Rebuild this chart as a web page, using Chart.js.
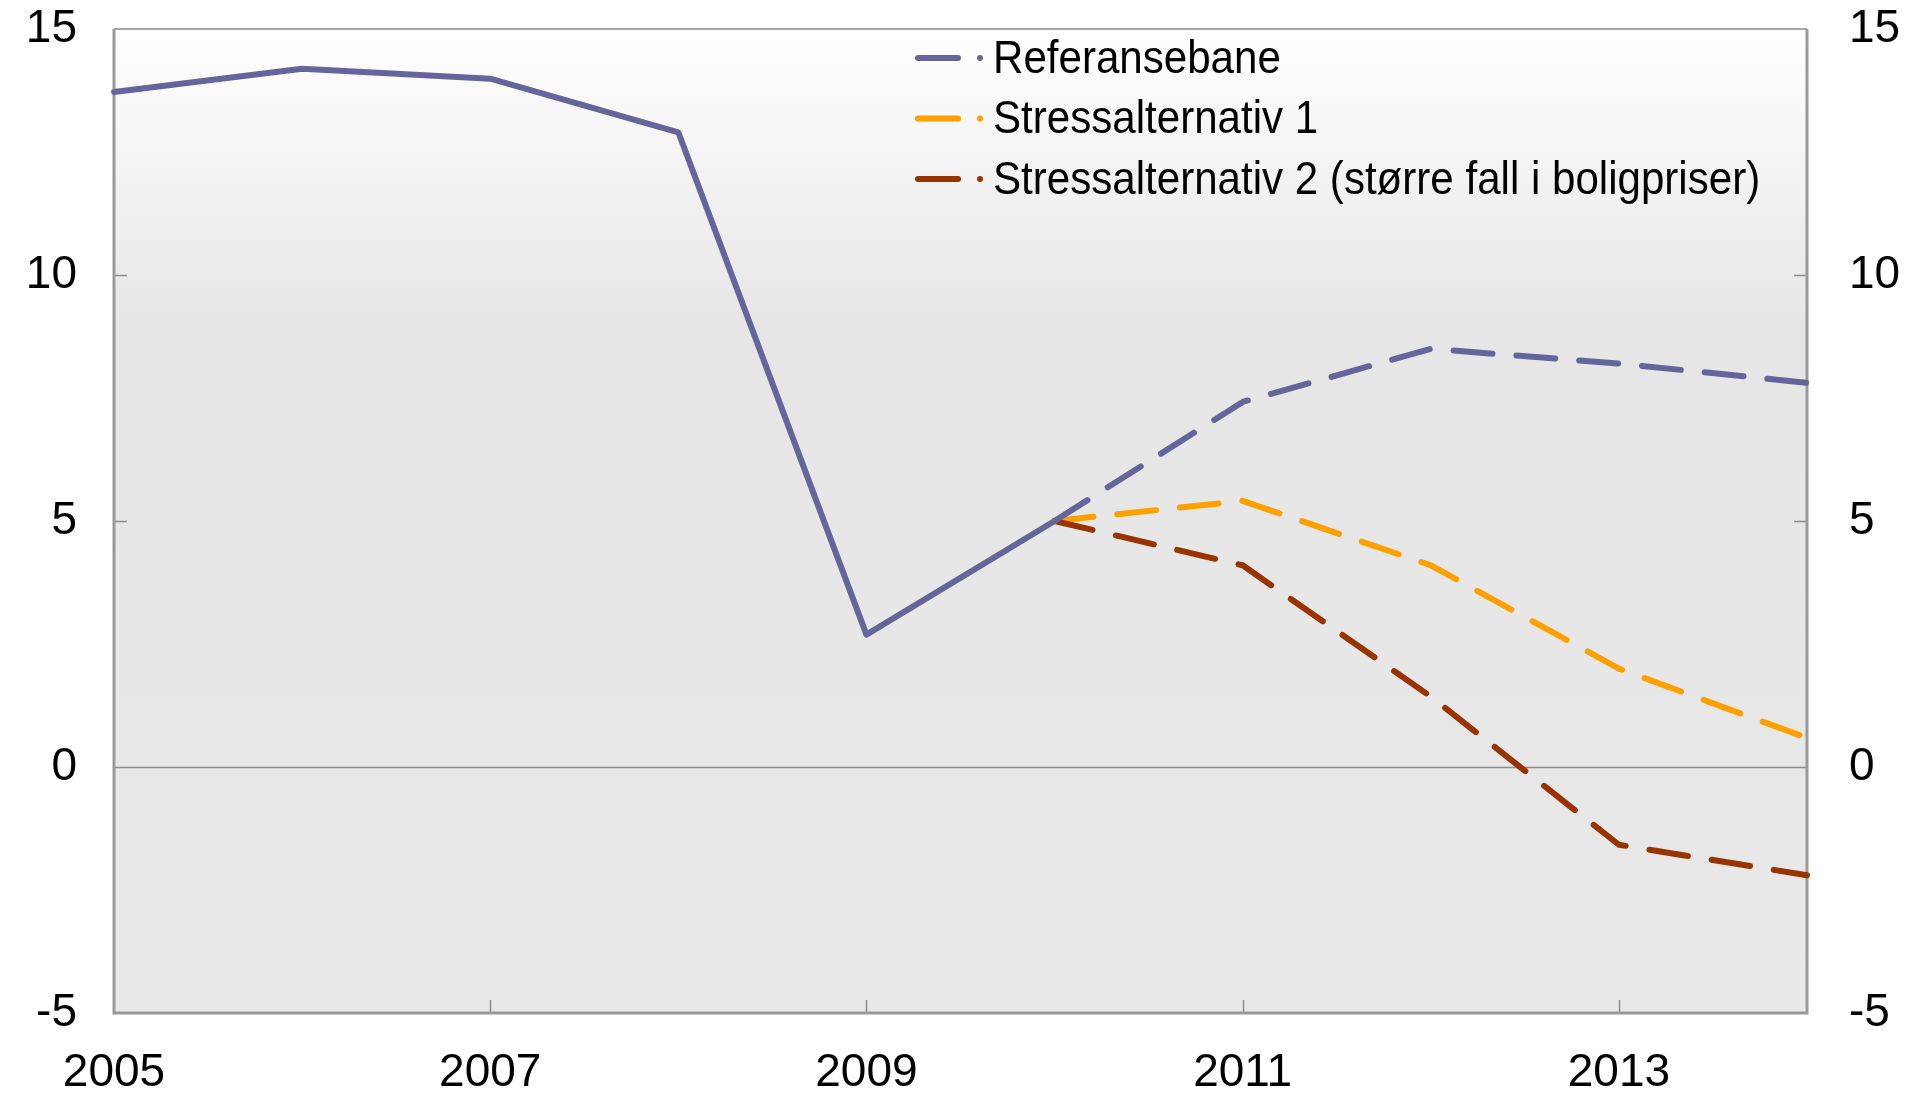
<!DOCTYPE html>
<html lang="no">
<head>
  <meta charset="UTF-8" />
  <title>Referansebane og stressalternativer</title>
  <script src="https://cdn.jsdelivr.net/npm/chart.js"></script>
  <style>
    html, body { margin: 0; padding: 0; background: #fff; }
    #wrap { width: 1907px; height: 1096px; }
  </style>
</head>
<body>
  <div id="wrap"><canvas id="chart"></canvas></div>

  <script>
    const years = ['2005', '2006', '2007', '2008', '2009', '2010', '2011', '2012', '2013', '2014'];
    const referansebane = [13.72, 14.19, 13.99, 12.9, 2.69, 5.0, 7.42, 8.5, 8.2, 7.81];
    const stress1 = [null, null, null, null, null, 5.0, 5.41, 4.1, 2.0, 0.59];
    const stress2 = [null, null, null, null, null, 5.0, 4.1, 1.43, -1.58, -2.2];
    const yTicks = [-5, 0, 5, 10, 15];

    const FONT = "'Liberation Sans', Arial, sans-serif";
    const DASH = [39, 24];
    const frameGrey = '#9a9a9a';

    // gradient background, frame, zero line and inward tick marks
    const framePlugin = {
      id: 'frame',
      beforeDraw(chart) {
        const { ctx, chartArea: a } = chart;
        const g = ctx.createLinearGradient(0, a.top, 0, a.bottom);
        g.addColorStop(0, '#ffffff');
        g.addColorStop(0.3, '#e6e6e6');
        g.addColorStop(1, '#e8e8e8');
        ctx.save();
        ctx.fillStyle = g;
        ctx.fillRect(a.left, a.top, a.right - a.left, a.bottom - a.top);
        ctx.restore();
      },
      beforeDatasetsDraw(chart) {
        const { ctx, chartArea: a, scales } = chart;
        const y = scales.y, x = scales.x;
        ctx.save();
        ctx.strokeStyle = '#8c8c8c';
        ctx.lineWidth = 1.5;
        // zero line
        const y0 = Math.round(y.getPixelForValue(0)) + 0.5;
        ctx.beginPath();
        ctx.moveTo(a.left, y0);
        ctx.lineTo(a.right, y0);
        ctx.stroke();
        // y ticks on both sides
        yTicks.forEach(v => {
          if (v === 0 || v === -5 || v === 15) return;
          const py = Math.round(y.getPixelForValue(v)) + 0.5;
          ctx.beginPath();
          ctx.moveTo(a.left, py); ctx.lineTo(a.left + 13, py);
          ctx.moveTo(a.right, py); ctx.lineTo(a.right - 13, py);
          ctx.stroke();
        });
        // x ticks every other year
        years.forEach((yr, i) => {
          if (i === 0 || i % 2 !== 0) return;
          const px = Math.round(x.getPixelForValue(i)) + 0.5;
          ctx.beginPath();
          ctx.moveTo(px, a.bottom); ctx.lineTo(px, a.bottom - 13);
          ctx.stroke();
        });
        // frame
        ctx.strokeStyle = '#a8a8a8';
        ctx.lineWidth = 2;
        ctx.beginPath();
        ctx.moveTo(a.left, a.top); ctx.lineTo(a.right, a.top);
        ctx.stroke();
        ctx.strokeStyle = frameGrey;
        ctx.lineWidth = 3;
        ctx.beginPath();
        ctx.moveTo(a.left, a.top); ctx.lineTo(a.left, a.bottom);
        ctx.lineTo(a.right, a.bottom); ctx.lineTo(a.right, a.top);
        ctx.stroke();
        ctx.restore();
      }
    };

    // legend drawn as dash + dot + label inside the plot
    const legendPlugin = {
      id: 'innerLegend',
      afterDraw(chart) {
        const { ctx } = chart;
        const items = chart.data.datasets.filter(d => d.legend !== false);
        ctx.save();
        ctx.font = '46px ' + FONT;
        ctx.textBaseline = 'middle';
        ctx.lineCap = 'round';
        items.forEach((ds, i) => {
          const cy = 58 + i * 60.5;
          ctx.strokeStyle = ds.borderColor;
          ctx.lineWidth = 6;
          ctx.beginPath();
          ctx.moveTo(918, cy); ctx.lineTo(958, cy);
          ctx.stroke();
          ctx.beginPath();
          ctx.arc(980, cy, 3, 0, Math.PI * 2);
          ctx.fillStyle = ds.borderColor;
          ctx.fill();
          ctx.fillStyle = '#000';
          ctx.save();
          ctx.translate(993, cy + 2);
          ctx.scale(0.915, 1);
          ctx.fillText(ds.label, 0, 0);
          ctx.restore();
        });
        ctx.restore();
      }
    };

    const common = {
      borderWidth: 6,
      pointRadius: 0,
      pointHoverRadius: 0,
      tension: 0,
      fill: false,
      borderCapStyle: 'round',
      borderJoinStyle: 'round',
      spanGaps: false
    };

    // keep the plot box where it is; labels may overhang the top edge
    const noOverhang = s => { s.paddingTop = 0; s.paddingBottom = 0; };

    new Chart(document.getElementById('chart'), {
      type: 'line',
      data: {
        labels: years,
        datasets: [
          {
            ...common,
            label: 'Referansebane',
            data: referansebane,
            borderColor: '#65659c',
            segment: { borderDash: c => c.p0DataIndex >= 5 ? DASH : undefined },
            order: 1
          },
          { ...common, label: 'Stressalternativ 1', data: stress1, borderColor: '#ffa000', borderDash: DASH, order: 3 },
          { ...common, label: 'Stressalternativ 2 (større fall i boligpriser)', data: stress2, borderColor: '#993300', borderDash: DASH, order: 2 }
        ]
      },
      options: {
        responsive: true,
        maintainAspectRatio: false,
        animation: false,
        events: [],
        layout: { padding: { top: 29, left: 0, right: 0, bottom: 0 } },
        plugins: { legend: { display: false }, tooltip: { enabled: false } },
        scales: {
          x: {
            type: 'category',
            offset: false,
            grid: { display: false, drawTicks: false },
            border: { display: false },
            ticks: {
              autoSkip: false,
              maxRotation: 0,
              padding: 33,
              color: '#000',
              font: { family: FONT, size: 46 },
              callback: (v, i) => i % 2 === 0 ? years[i] : ''
            },
            afterFit: s => { s.height = 83; s.paddingLeft = 0; s.paddingRight = 0; }
          },
          y: {
            position: 'left',
            min: -5, max: 15,
            afterBuildTicks: s => { s.ticks = yTicks.map(v => ({ value: v })); },
            grid: { display: false, drawTicks: false },
            border: { display: false },
            ticks: { padding: 37, color: '#000', font: { family: FONT, size: 46 } },
            afterFit: s => { s.width = 114; noOverhang(s); }
          },
          y2: {
            position: 'right',
            min: -5, max: 15,
            afterBuildTicks: s => { s.ticks = yTicks.map(v => ({ value: v })); },
            grid: { display: false, drawTicks: false },
            border: { display: false },
            ticks: { padding: 42, color: '#000', font: { family: FONT, size: 46 } },
            afterFit: s => { s.width = 100; noOverhang(s); }
          }
        }
      },
      plugins: [framePlugin, legendPlugin]
    });
  </script>
</body>
</html>
